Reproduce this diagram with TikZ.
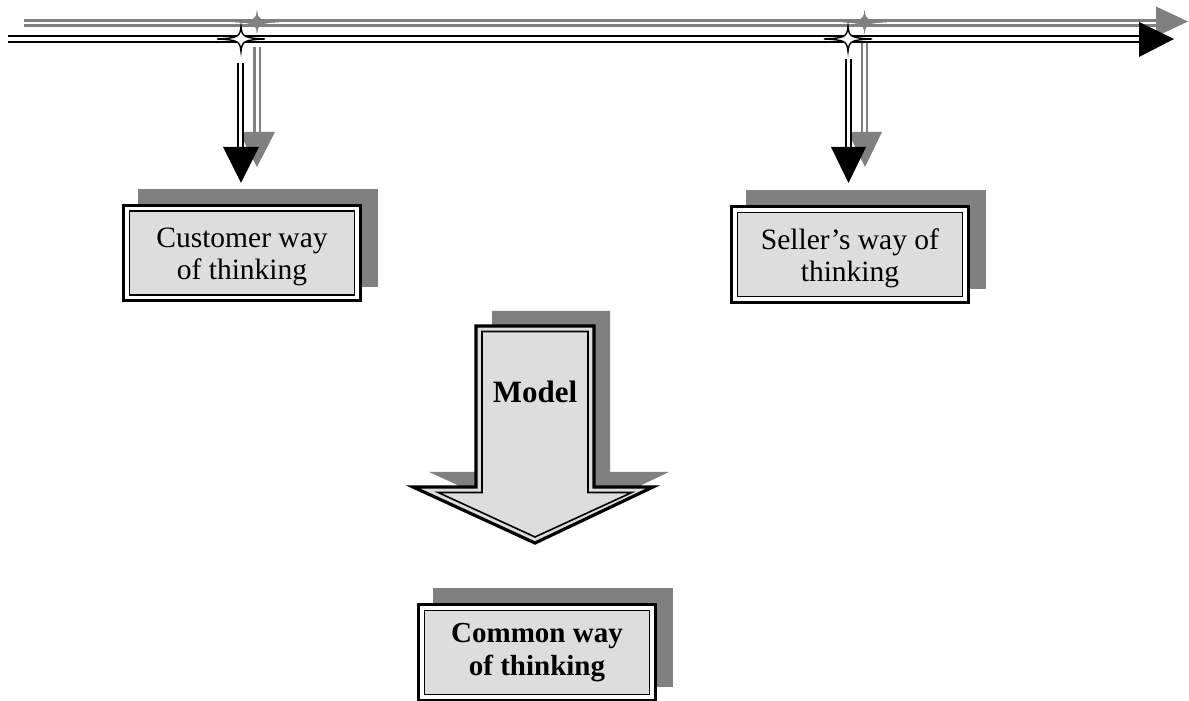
\documentclass[tikz,border=0pt]{standalone}
\usepackage{fontspec}
\setmainfont{Liberation Serif}
\usetikzlibrary{backgrounds}
\definecolor{shadowgray}{HTML}{808080}
\definecolor{boxgray}{HTML}{DDDDDD}
\tikzset{
  pics/spark/.style n args={2}{code={
    \path[pic actions] (0,#2) .. controls (1,2) and (3,1) .. (#1,0)
      .. controls (3,-1) and (1,-2) .. (0,-#2)
      .. controls (-1,-2) and (-3,-1) .. (-#1,0)
      .. controls (-3,1) and (-1,2) .. cycle;}},
  innerbox/.style={draw=black, line width=1.6pt, fill=boxgray, minimum width=225pt,
    minimum height=84pt, inner sep=0pt, align=center},
  regtext/.style={font=\fontsize{29.5}{32}\selectfont, align=center, inner sep=0pt},
  boldtext/.style={font=\fontsize{29}{33}\selectfont\bfseries},
  blackdbl/.style={draw=black, line width=2.6pt, double=white, double distance=3.3pt},
  graydbl/.style={draw=shadowgray, line width=2.6pt, double=white, double distance=2.2pt},
  blackvdbl/.style={draw=black, line width=2.3pt, double=white, double distance=2.4pt},
  grayvdbl/.style={draw=shadowgray, line width=2.6pt, double=white, double distance=2.6pt},
  shadowfill/.style={fill=shadowgray, draw=none},
  frame/.style={draw=black, line width=3.2pt, fill=white}
}
\begin{document}
\begin{tikzpicture}[x=1pt,y=1pt]
\useasboundingbox (0,0) rectangle (1189,701);

% ---- coordinates of the time lines
\coordinate (gS) at (24,678);
\coordinate (gE) at (1157,678);
\coordinate (bS) at (8,662);
\coordinate (bE) at (1140,662);
\coordinate (gstarL) at (257,679);
\coordinate (bstarL) at (241,662);
\coordinate (gstarR) at (864.5,679);
\coordinate (bstarR) at (848,662);

% ---- gray (shadow) time line
\draw[graydbl] (gS) -- (gE);
\fill[shadowgray] (1156,694.5) -- (1188,679.5) -- (1156,664.5) -- cycle;
\pic[fill=shadowgray, draw=shadowgray, line width=0.6pt] at (gstarL) {spark={22}{10.5}};
\pic[fill=shadowgray, draw=shadowgray, line width=0.6pt] at (gstarR) {spark={22}{10.5}};

% gray vertical arrows
\coordinate (gvL1) at (257.3,654);
\coordinate (gvL2) at (257.3,568);
\coordinate (gvR1) at (864.5,658);
\coordinate (gvR2) at (864.5,568);
\draw[grayvdbl] (gvL1) -- (gvL2);
\fill[shadowgray] (239,569) -- (257,534) -- (275,569) -- cycle;
\draw[grayvdbl] (gvR1) -- (gvR2);
\fill[shadowgray] (848,569) -- (865,534) -- (882,569) -- cycle;

% ---- black time line
\draw[blackdbl] (bS) -- (bE);
\fill[black] (1139,679) -- (1174,662) -- (1139,644) -- cycle;
\pic[fill=white, draw=black, line width=1.4pt] at (bstarL) {spark={24}{12.5}};
\pic[fill=white, draw=black, line width=1.4pt] at (bstarR) {spark={24}{12.5}};

% black vertical arrows
\coordinate (bvL1) at (240.5,638);
\coordinate (bvL2) at (240.5,553);
\coordinate (bvR1) at (848.5,642);
\coordinate (bvR2) at (848.5,553);
\draw[blackvdbl] (bvL1) -- (bvL2);
\fill[black] (223,554) -- (241,518) -- (259,554) -- cycle;
\draw[blackvdbl] (bvR1) -- (bvR2);
\fill[black] (831,554) -- (848.5,518) -- (866,554) -- cycle;

% ---- boxes
\node[innerbox] (cust) at (242,448) {};
\node[innerbox] (sell) at (850,446.5) {};
\node[innerbox, boldtext] (common) at (537,48.5) {Common way\\of thinking};
\node[regtext] (custtxt) at ([yshift=-4pt]cust.center) {Customer way\\of thinking};
\node[regtext] (selltxt) at ([yshift=-4pt]sell.center) {Seller’s way of\\thinking};

\begin{scope}[on background layer]
  \foreach \b in {cust,sell,common}{
    \path[shadowfill] ([shift={(9.5,21.5)}]\b.north west) rectangle ([shift={(22.5,8.5)}]\b.south east);
    \path[frame] ([shift={(-5,5)}]\b.north west) rectangle ([shift={(5,-5)}]\b.south east);
  }
\end{scope}

% ---- Model arrow
\path[shadowfill] (492,390) -- (610,390) -- (610,229) -- (669,229) -- (551,173) -- (429,229) -- (492,229) -- cycle;
\draw[draw=black, line width=3.2pt, fill=boxgray, line join=miter]
  (476,375) -- (594,375) -- (594,214) -- (653,214) -- (535,158) -- (413,214) -- (476,214) -- cycle;
\draw[draw=black, line width=1.6pt, fill=boxgray, line join=miter]
  (482,369.5) -- (588,369.5) -- (588,208.5) -- (631.8,208.5) -- (535,164) -- (438.2,208.5) -- (482,208.5) -- cycle;
\node[font=\fontsize{31}{34}\selectfont\bfseries, anchor=base, inner sep=0pt] (model) at (535,298) {Model};

\end{tikzpicture}
\end{document}
